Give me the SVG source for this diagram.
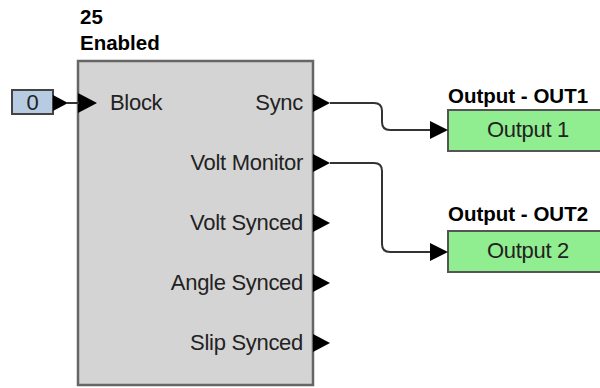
<svg xmlns="http://www.w3.org/2000/svg" xmlns:xlink="http://www.w3.org/1999/xlink" width="600" height="388" viewBox="0 0 600 388">
<style>
.lbl{font-family:"Liberation Sans",Arial,sans-serif;font-size:22px;fill:#222;letter-spacing:-0.3px}
.ttl{font-family:"Liberation Sans",Arial,sans-serif;font-size:20.5px;font-weight:bold;fill:#000}
.wire{fill:none;stroke:#333;stroke-width:2}
.tri{fill:#000}
</style>
<defs>
<path id="ptri" d="M0,-9 L17,0 L0,9 Z"/>
<path id="atri" d="M0,-9 L18,0 L0,9 Z"/>
</defs>
<rect width="600" height="388" fill="#fff"/>
<g id="block">
<text class="ttl" x="80" y="24">25</text>
<text class="ttl" x="80" y="50">Enabled</text>
<rect x="78" y="61" width="235" height="324" fill="#d4d4d4" stroke="#666" stroke-width="2.5"/>
<polygon class="tri" points="78,93 97,103 78,113"/>
<text class="lbl" x="110" y="110">Block</text>
<text class="lbl" x="303" y="110" text-anchor="end">Sync</text>
<text class="lbl" x="303" y="170" text-anchor="end">Volt Monitor</text>
<text class="lbl" x="303" y="230" text-anchor="end">Volt Synced</text>
<text class="lbl" x="303" y="290" text-anchor="end">Angle Synced</text>
<text class="lbl" x="303" y="350" text-anchor="end">Slip Synced</text>
<use href="#ptri" xlink:href="#ptri" class="tri" x="313" y="103"/>
<use href="#ptri" xlink:href="#ptri" class="tri" x="313" y="163"/>
<use href="#ptri" xlink:href="#ptri" class="tri" x="313" y="223"/>
<use href="#ptri" xlink:href="#ptri" class="tri" x="313" y="283"/>
<use href="#ptri" xlink:href="#ptri" class="tri" x="313" y="343"/>
</g>
<g id="const0">
<rect x="12" y="90" width="41" height="24" fill="#b7cbe3" stroke="#444" stroke-width="2"/>
<text class="lbl" x="32.5" y="110" text-anchor="middle">0</text>
<polygon class="tri" points="53,95 68,103 53,111"/>
</g>
<g id="out1">
<text class="ttl" x="448" y="103">Output - OUT1</text>
<rect x="448" y="110" width="170" height="41" fill="#90ee90" stroke="#555" stroke-width="2"/>
<text class="lbl" x="528" y="137" text-anchor="middle">Output 1</text>
</g>
<g id="out2">
<text class="ttl" x="448" y="221">Output - OUT2</text>
<rect x="448" y="231" width="170" height="41" fill="#90ee90" stroke="#555" stroke-width="2"/>
<text class="lbl" x="528" y="258" text-anchor="middle">Output 2</text>
</g>
<g id="connectors">
<path class="wire" d="M66,103 H79"/>
<path class="wire" d="M330,103 H374 Q382,103 382,111 V122 Q382,130 390,130 H432"/>
<use href="#atri" xlink:href="#atri" class="tri" x="430" y="130"/>
<path class="wire" d="M330,163 H374 Q382,163 382,171 V244 Q382,252 390,252 H432"/>
<use href="#atri" xlink:href="#atri" class="tri" x="430" y="252"/>
</g>
</svg>
